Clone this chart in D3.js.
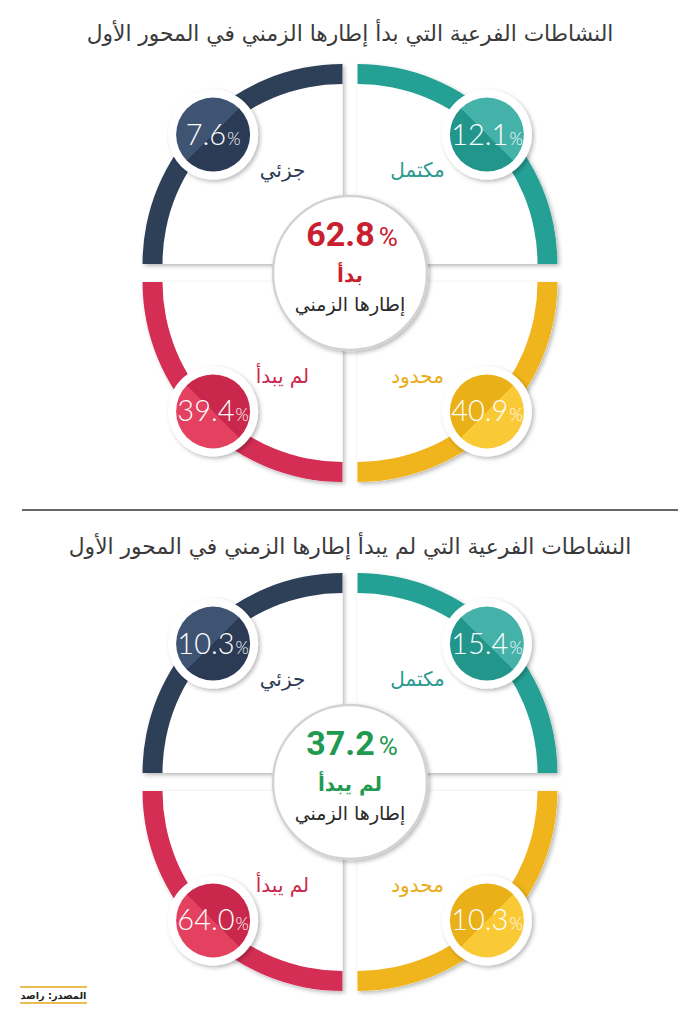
<!DOCTYPE html>
<html>
<head>
<meta charset="utf-8">
<script src="https://cdn.jsdelivr.net/npm/d3@7"></script>
<style>
  body { margin: 0; background: #fff; }
  svg { display: block; }
</style>
</head>
<body>
<svg id="chart" width="700" height="1024"></svg>
<script>
// quadrant order: top-right, bottom-right, bottom-left, top-left
var categories = ["مكتمل", "محدود", "لم يبدأ", "جزئي"];
var valuesStarted = [12.1, 40.9, 39.4, 7.6];
var valuesNotStarted = [15.4, 10.3, 64.0, 10.3];
var centerValues = [62.8, 37.2];
var centerLabels = ["بدأ", "لم يبدأ"];
var titles = [
  "النشاطات الفرعية التي بدأ إطارها الزمني في المحور الأول",
  "النشاطات الفرعية التي لم يبدأ إطارها الزمني في المحور الأول"
];
var sourceText = "المصدر: راصد";

var arcColors = ["#25a095", "#f0b41c", "#d42e55", "#2e3f58"];
var darkColors = ["#23968c", "#eab018", "#c9284c", "#2b3b55"];
var lightColors = ["#45b2aa", "#f9c936", "#e4405f", "#3f5373"];
var labelColors = ["#2a9a90", "#e8ac18", "#c9284c", "#2b3b55"];
var centerColors = ["#c8202e", "#1f9a50"];

var svg = d3.select("#chart");
var defs = svg.append("defs");

var shadow = defs.append("filter").attr("id", "shadow")
    .attr("x", "-20%").attr("y", "-20%").attr("width", "140%").attr("height", "140%");
shadow.append("feDropShadow").attr("dx", 2).attr("dy", 2).attr("stdDeviation", 2)
    .attr("flood-color", "#000").attr("flood-opacity", 0.28);

var arabic = "'DejaVu Sans', 'Noto Sans', sans-serif";
var R = 200, thick = 20, gx = 7.5, gy = 9;

// quadrant geometry (d3 angles: 0 at 12 o'clock, clockwise)
var quads = [
  {start: 0, sx: 1, sy: -1},
  {start: Math.PI / 2, sx: 1, sy: 1},
  {start: Math.PI, sx: -1, sy: 1},
  {start: Math.PI * 1.5, sx: -1, sy: -1}
];

// split gradients, lighter half faces outward
quads.forEach(function(q, i) {
  var g = defs.append("linearGradient").attr("id", "grad" + i)
      .attr("x1", q.sx > 0 ? 0 : 1).attr("y1", q.sy > 0 ? 0 : 1)
      .attr("x2", q.sx > 0 ? 1 : 0).attr("y2", q.sy > 0 ? 1 : 0);
  g.append("stop").attr("offset", "50%").attr("stop-color", darkColors[i]);
  g.append("stop").attr("offset", "50%").attr("stop-color", lightColors[i]);
});

var wedge = d3.arc().innerRadius(0).outerRadius(R);
var rim = d3.arc().innerRadius(R - thick).outerRadius(R);

function fitText(sel, target) {
  var w = sel.node().getComputedTextLength();
  var fs = parseFloat(sel.attr("font-size"));
  sel.attr("font-size", fs * target / w);
}

function drawPanel(cy, values, idx, titleY, titleW) {
  var cx = 350;
  var t = svg.append("text")
      .attr("x", cx).attr("y", titleY)
      .attr("text-anchor", "middle").attr("direction", "rtl")
      .attr("font-family", arabic).attr("font-size", 22)
      .attr("fill", "#3a3a3a")
      .text(titles[idx]);
  fitText(t, titleW);

  var panel = svg.append("g");

  quads.forEach(function(q, i) {
    var ox = cx + q.sx * gx, oy = cy + q.sy * gy;
    var g = panel.append("g").attr("transform", "translate(" + ox + "," + oy + ")");
    var a = {startAngle: q.start, endAngle: q.start + Math.PI / 2};
    g.append("path").attr("d", wedge(a)).attr("fill", "#fff").attr("filter", "url(#shadow)");
    g.append("path").attr("d", rim(a)).attr("fill", arcColors[i]);

    var lab = g.append("text")
        .attr("x", q.sx * 60).attr("y", q.sy * 94 + 7)
        .attr("text-anchor", "middle").attr("direction", "rtl")
        .attr("font-family", arabic).attr("font-size", 20)
        .attr("fill", labelColors[i])
        .text(categories[i]);

    var mid = q.start + Math.PI / 4, rr = 183;
    var px = rr * Math.sin(mid), py = -rr * Math.cos(mid);
    g.append("circle").attr("cx", px).attr("cy", py).attr("r", 45)
        .attr("fill", "#fff").attr("filter", "url(#shadow)");
    g.append("circle").attr("cx", px).attr("cy", py).attr("r", 37)
        .attr("fill", "url(#grad" + i + ")");
    var vt = g.append("text")
        .attr("x", px).attr("y", py + 10)
        .attr("text-anchor", "middle")
        .attr("font-family", "Lato, 'Open Sans', sans-serif")
        .attr("font-weight", 300).attr("fill", "#fff");
    vt.append("tspan").attr("font-size", 29).text(values[i].toFixed(1));
    vt.append("tspan").attr("font-size", 17).attr("dx", 1).text("%");
  });

  // centre badge
  panel.append("circle").attr("cx", cx).attr("cy", cy).attr("r", 77)
      .attr("fill", "#fff").attr("stroke", "#d2d2d2").attr("stroke-width", 2.5)
      .attr("filter", "url(#shadow)");
  var ct = panel.append("text")
      .attr("x", cx + 2).attr("y", cy - 27)
      .attr("text-anchor", "middle")
      .attr("font-family", "Roboto, 'Open Sans', sans-serif")
      .attr("fill", centerColors[idx]);
  ct.append("tspan").attr("font-size", 34).attr("font-weight", 700).text(centerValues[idx].toFixed(1));
  ct.append("tspan").attr("font-size", 26).attr("dx", 4).text("%");

  panel.append("text")
      .attr("x", cx).attr("y", cy + 9)
      .attr("text-anchor", "middle").attr("direction", "rtl")
      .attr("font-family", arabic).attr("font-size", 20).attr("font-weight", 700)
      .attr("fill", centerColors[idx])
      .text(centerLabels[idx]);
  panel.append("text")
      .attr("x", cx).attr("y", cy + 38)
      .attr("text-anchor", "middle").attr("direction", "rtl")
      .attr("font-family", arabic).attr("font-size", 19)
      .attr("fill", "#2a2a2a")
      .text("إطارها الزمني");
}

drawPanel(273, valuesStarted, 0, 41, 527);
drawPanel(782, valuesNotStarted, 1, 554, 563);

// divider
svg.append("line").attr("x1", 22).attr("x2", 678).attr("y1", 510).attr("y2", 510)
    .attr("stroke", "#666").attr("stroke-width", 2);

// source
svg.append("line").attr("x1", 20).attr("x2", 87).attr("y1", 987).attr("y2", 987)
    .attr("stroke", "#eabd55").attr("stroke-width", 2);
svg.append("line").attr("x1", 20).attr("x2", 87).attr("y1", 1003).attr("y2", 1003)
    .attr("stroke", "#eabd55").attr("stroke-width", 2);
var src = svg.append("text").attr("x", 53.5).attr("y", 999)
    .attr("text-anchor", "middle").attr("direction", "rtl")
    .attr("font-family", arabic).attr("font-size", 12).attr("font-weight", 700)
    .attr("fill", "#222").text(sourceText);
fitText(src, 66);
</script>
</body>
</html>
